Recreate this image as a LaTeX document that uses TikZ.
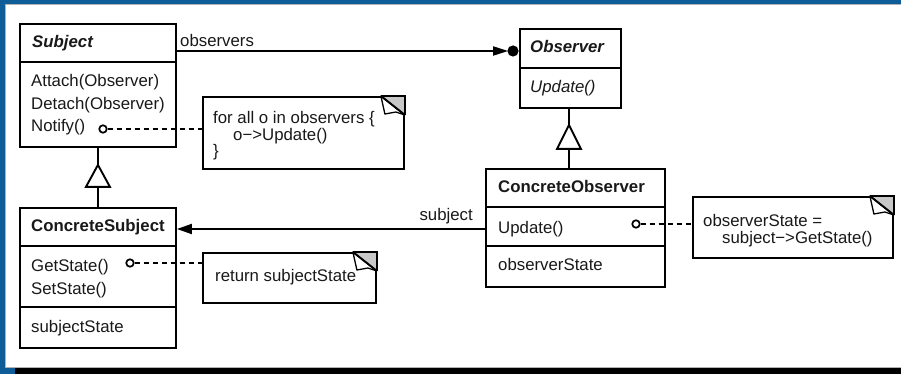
\documentclass[tikz,border=0pt]{standalone}
\usepackage{fontspec}
\setmainfont{Liberation Sans}
\usetikzlibrary{arrows.meta,calc}
\definecolor{frameblue}{RGB}{14,92,152}
\definecolor{foldgray}{RGB}{200,200,200}
\definecolor{inkgray}{RGB}{25,25,25}
\tikzset{
  box/.style={draw, line width=1.9pt, anchor=north west, inner sep=0pt, fill=white},
  divider/.style={line width=1.2pt},
  txt/.style={anchor=base west, inner sep=0pt, text=inkgray, font=\fontsize{16.8}{20}\selectfont},
  conn/.style={line width=1.9pt},
  dashline/.style={line width=1.9pt, dash pattern=on 5pt off 4pt},
  pin/.style={circle, draw, line width=1.7pt, minimum size=7.5pt, inner sep=0pt, fill=white},
  inherit/.style={draw, line width=1.9pt, fill=white},
}
\newcommand\dogear[1]{%
  \fill[foldgray] ([xshift=-24pt]#1.north east) -- (#1.north east) -- ([yshift=-19pt]#1.north east) -- cycle;
  \draw[line width=1.9pt] ([xshift=-24pt]#1.north east) -- (#1.north east) -- ([yshift=-19pt]#1.north east);
  \draw[fill=white, line width=1.3pt, line join=round] ([xshift=-24pt]#1.north east) -- ([xshift=-20pt,yshift=-18pt]#1.north east) -- ([xshift=-9pt,yshift=-16pt]#1.north east) -- ([yshift=-19pt]#1.north east) -- cycle;
  \draw[line width=1.9pt] ([xshift=-24pt]#1.north east) -- ([yshift=-19pt]#1.north east);
}
\begin{document}
\begin{tikzpicture}[x=1pt, y=-1pt]
\useasboundingbox (0,0) rectangle (901,374);
% frame
\fill[frameblue] (0,0) rectangle (901,374);
\fill[black] (15,368) rectangle (901,374);
\fill[white] (5,4) rectangle (901,367.5);
\draw[gray!60, line width=0.8pt] (5,4) -- (901,4);
\draw[gray!60, line width=0.8pt] (5,367.5) -- (901,367.5);
\draw[gray!60, line width=0.6pt] (5,4) -- (5,367.5);

% class boxes
\node[box, minimum width=156pt, minimum height=123pt] (subj) at (19,23) {};
\node[box, minimum width=156pt, minimum height=140pt] (csub) at (19,207) {};
\node[box, minimum width=101pt, minimum height=79pt] (obs) at (519,28) {};
\node[box, minimum width=179pt, minimum height=118pt] (cobs) at (485,168) {};

\draw[divider] (subj.west |- 0,62) -- (subj.east |- 0,62);
\draw[divider] (csub.west |- 0,246) -- (csub.east |- 0,246);
\draw[divider] (csub.west |- 0,307) -- (csub.east |- 0,307);
\draw[divider] (obs.west |- 0,68) -- (obs.east |- 0,68);
\draw[divider] (cobs.west |- 0,207) -- (cobs.east |- 0,207);
\draw[divider] (cobs.west |- 0,246) -- (cobs.east |- 0,246);

% notes
\node[box, minimum width=201pt, minimum height=72pt] (n1) at (202,96) {};
\node[box, minimum width=173pt, minimum height=50pt] (n2) at (202,252) {};
\node[box, minimum width=200pt, minimum height=61pt] (n3) at (692,196) {};
\dogear{n1}
\dogear{n2}
\dogear{n3}

% texts: Subject
\node[txt, font=\fontsize{16.8}{20}\selectfont\bfseries\itshape] (ts0) at (32,48) {Subject};
\node[txt] (ts1) at (31,87) {Attach(Observer)};
\node[txt] (ts2) at (31,109.5) {Detach(Observer)};
\node[txt] (ts3) at (31,132) {Notify()};
% ConcreteSubject
\node[txt, font=\fontsize{16.8}{20}\selectfont\bfseries] (tc0) at (31,231) {ConcreteSubject};
\node[txt] (tc1) at (31,271) {GetState()};
\node[txt] (tc2) at (31,294) {SetState()};
\node[txt] (tc3) at (31,332) {subjectState};
% Observer
\node[txt, font=\fontsize{16.8}{20}\selectfont\bfseries\itshape] (to0) at (530,53) {Observer};
\node[txt, font=\fontsize{16.8}{20}\selectfont\itshape] (to1) at (530,93) {Update()};
% ConcreteObserver
\node[txt, font=\fontsize{16.8}{20}\selectfont\bfseries] (tco0) at (498,193) {ConcreteObserver};
\node[txt] (tco1) at (498,233) {Update()};
\node[txt] (tco2) at (498,270) {observerState};
% note texts
\node[txt] (tn1a) at (213,124) {for all o in observers \{};
\node[txt] (tn1b) at (233,140.5) {o−>Update()};
\node[txt] (tn1c) at (213,157) {\}};
\node[txt] (tn2) at (215,281) {return subjectState};
\node[txt] (tn3a) at (703,226) {observerState =};
\node[txt] (tn3b) at (722,243) {subject−>GetState()};

% association labels
\node[txt] (lobs) at (180,47) {observers};
\node[txt, anchor=base east] (lsub) at (473,220) {subject};

% observers association
\coordinate (a1) at (175,51);
\draw[conn] (a1) -- ([xshift=-14pt]obs.west |- a1);
\fill[black] ([xshift=-26pt,yshift=4.8pt]obs.west |- a1) -- ([xshift=-11pt]obs.west |- a1) -- ([xshift=-26pt,yshift=-4.8pt]obs.west |- a1) -- cycle;
\fill[black] ([xshift=-6pt]obs.west |- a1) circle (5.6pt);

% subject association
\coordinate (a2) at (485,229);
\draw[conn, -{Triangle[length=15pt, width=10pt]}] (a2) -- (csub.east |- a2);

% inheritance
\draw[conn] (subj.south) -- (csub.north);
\draw[inherit] ([yshift=-17pt]subj.south) -- ([xshift=12pt,yshift=-39pt]subj.south) -- ([xshift=-12pt,yshift=-39pt]subj.south) -- cycle;
\draw[conn] (obs.south -| 569,0) -- (cobs.north -| 569,0);
\coordinate (osb) at (obs.south -| 569,0);
\draw[inherit] ([yshift=-16pt]osb) -- ([xshift=12pt,yshift=-40pt]osb) -- ([xshift=-12pt,yshift=-40pt]osb) -- cycle;

% pins and dashed links
\node[pin] (c1) at (103,129) {};
\node[pin] (c2) at (130,263) {};
\node[pin] (c3) at (636,224) {};
\draw[dashline] (c1.east) -- (n1.west |- c1);
\draw[dashline] (c2.east) -- (n2.west |- c2);
\draw[dashline] (c3.east) -- (n3.west |- c3);
\end{tikzpicture}
\end{document}
